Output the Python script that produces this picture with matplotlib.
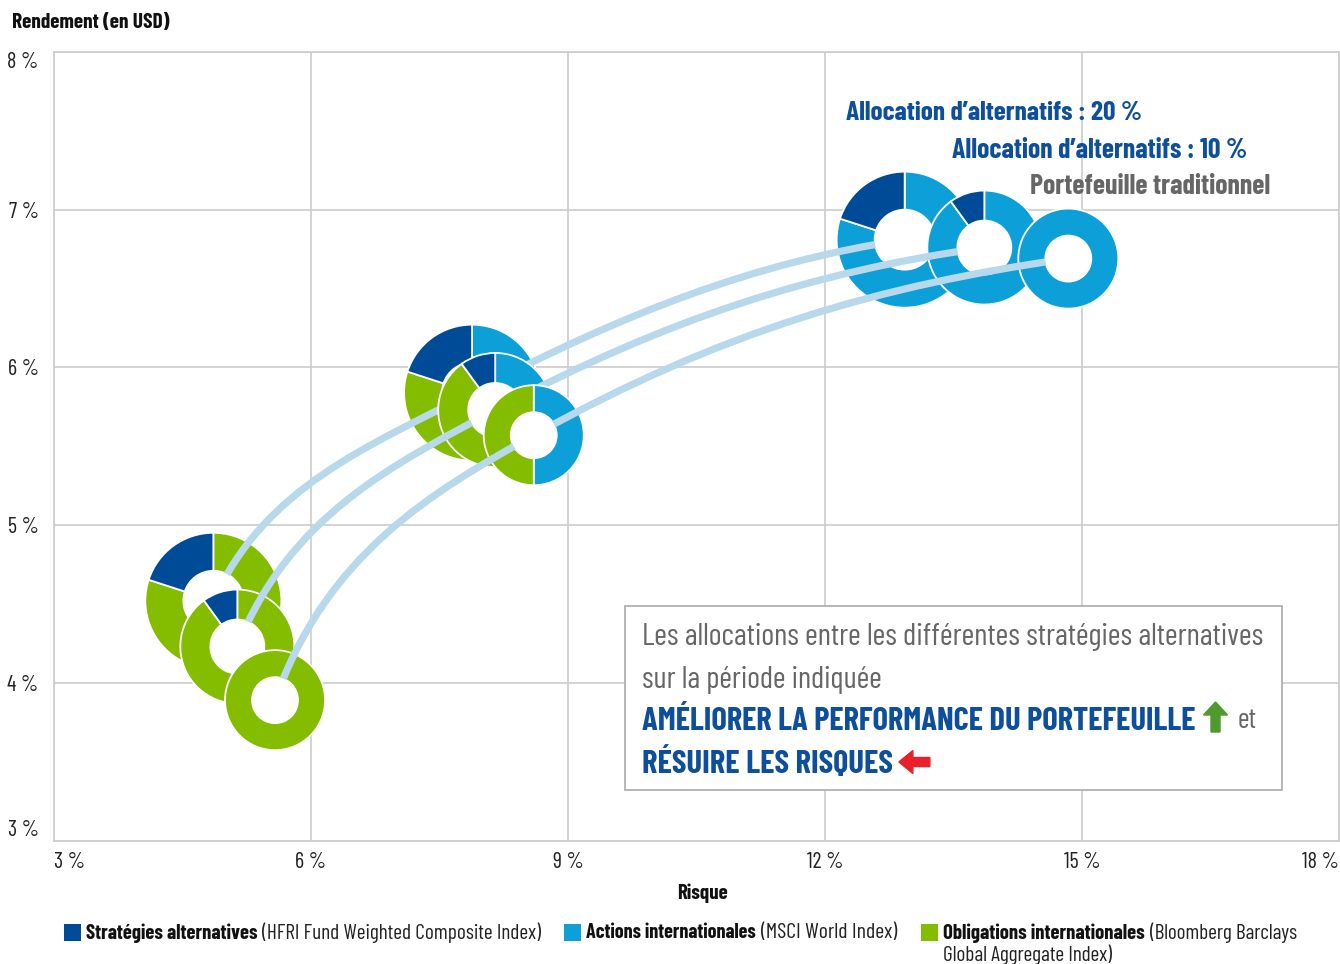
import matplotlib
matplotlib.use("Agg")
import matplotlib.pyplot as plt
import numpy as np
from matplotlib import font_manager
from matplotlib.patches import Wedge, Circle, Rectangle, FancyArrow, PathPatch
from matplotlib.path import Path
from matplotlib.transforms import ScaledTranslation

W, H = 1340, 964

# --- data (risk %, return %) for the three points of each portfolio ---
labels = ["Allocation d’alternatifs : 20 %",
          "Allocation d’alternatifs : 10 %",
          "Portefeuille traditionnel"]
risk_20 = [4.86, 7.88, 12.93]
return_20 = [4.52, 5.84, 6.81]
risk_10 = [5.14, 8.15, 13.86]
return_10 = [4.23, 5.73, 6.76]
risk_trad = [5.58, 8.60, 14.84]
return_trad = [3.89, 5.57, 6.69]

# weights in each donut: equities, bonds, alternatives
eq_20 = [0.0, 0.4, 0.8]
bonds_20 = [0.8, 0.4, 0.0]
alt_20 = [0.2, 0.2, 0.2]
eq_10 = [0.0, 0.45, 0.9]
bonds_10 = [0.9, 0.45, 0.0]
alt_10 = [0.1, 0.1, 0.1]
eq_trad = [0.0, 0.5, 1.0]
bonds_trad = [1.0, 0.5, 0.0]
alt_trad = [0.0, 0.0, 0.0]

x_ticks = [3, 6, 9, 12, 15, 18]
y_ticks = [3, 4, 5, 6, 7, 8]

legend_bold = ["Stratégies alternatives", "Actions internationales", "Obligations internationales"]
legend_norm = ["(HFRI Fund Weighted Composite Index)", "(MSCI World Index)",
               "(Bloomberg Barclays"]
legend_norm2 = "Global Aggregate Index)"

# --- style ---
C_ALT = "#004b97"
C_EQ = "#0c9fd8"
C_BOND = "#84bc00"
C_LINE = "#b8d8ec"
C_GRID = "#cccccc"
C_HEAD = "#0d4f9c"
C_GREY = "#666666"

# condensed font if there is one, else DejaVu Sans condensed
names = {f.name for f in font_manager.fontManager.ttflist}
if "Barlow Condensed" in names:
    FAM, STRETCH = "Barlow Condensed", "normal"
else:
    FAM, STRETCH = "DejaVu Sans", "condensed"
plt.rcParams["font.family"] = [FAM, "DejaVu Sans"]
plt.rcParams["font.stretch"] = STRETCH

fig = plt.figure(figsize=(W / 100, H / 100), dpi=100)
ax = fig.add_axes([54 / W, 1 - 840.5 / H, 1285 / W, 788.5 / H])
ax.set_xlim(3, 18)
ax.set_ylim(3, 8)
ax.set_xticks(x_ticks)
ax.set_yticks(y_ticks)
ax.set_xticklabels([f"{v} %" for v in x_ticks], fontsize=16, color="#222222")
ax.set_yticklabels([f"{v} %" for v in y_ticks], fontsize=16, color="#222222")
ax.tick_params(length=0, pad=8)
ax.tick_params(axis="y", pad=11)
ax.grid(True, color=C_GRID, lw=1.2)
ax.set_axisbelow(True)
for sp in ax.spines.values():
    sp.set_color(C_GRID)
    sp.set_linewidth(1.2)
xl = ax.get_xticklabels()
xl[0].set_ha("left")
xl[-1].set_ha("right")
yl = ax.get_yticklabels()
yl[0].set_va("bottom")
yl[-1].set_va("top")


def donut(x, y, R, r, eq, bonds, alt, z):
    trans = fig.dpi_scale_trans + ScaledTranslation(x, y, ax.transData)
    start = 90.0
    for frac, col in ((eq, C_EQ), (bonds, C_BOND), (alt, C_ALT)):
        if frac <= 0:
            continue
        end = start - 360 * frac
        w = Wedge((0, 0), R / 100, end, start, width=(R - r) / 100,
                  facecolor=col, edgecolor="white", lw=1.3, transform=trans, zorder=z)
        ax.add_artist(w)
        start = end
    ax.add_artist(Circle((0, 0), r / 100, facecolor="white", edgecolor="none",
                         transform=trans, zorder=z + 2))


def connector(xs, ys, z):
    P0, P1, P2 = (np.array([xs[i], ys[i]]) for i in range(3))
    T = P2 - P0
    d1 = P1 - P0
    d2 = P2 - P1
    c1 = P0 + np.array([0.2 * d1[0], 0.55 * d1[1]])
    c2 = P1 - T * (0.4 * d1[0] / T[0])
    c3 = P1 + T * (0.35 * d2[0] / T[0])
    c4 = P2 - np.array([0.35 * d2[0], 0.15 * d2[1]])
    verts = [P0, c1, c2, P1, c3, c4, P2]
    codes = [Path.MOVETO] + [Path.CURVE4] * 6
    ax.add_patch(PathPatch(Path(verts, codes), facecolor="none", edgecolor=C_LINE,
                           lw=5.2, capstyle="butt", zorder=z))


series = [
    (risk_20, return_20, eq_20, bonds_20, alt_20, 68, 30),
    (risk_10, return_10, eq_10, bonds_10, alt_10, 57, 27),
    (risk_trad, return_trad, eq_trad, bonds_trad, alt_trad, 50, 23),
]
for k, (xs, ys, eq, bo, al, R, r) in enumerate(series):
    z = 3 + 3 * k
    for i in range(3):
        donut(xs[i], ys[i], R, r, eq[i], bo[i], al[i], z)
    connector(xs, ys, z + 1)

rend = fig.canvas.get_renderer()


def px(x, y):
    return x / W, 1 - y / H


def put(x, y, s, width, **kw):
    """Text at pixel (x, y) from top-left, scaled so it is `width` pixels wide."""
    kw.setdefault("va", "center")
    t = fig.text(*px(x, y), s, **kw)
    bb = t.get_window_extent(rend)
    t.set_fontsize(t.get_fontsize() * width / bb.width)
    return t


def right(t):
    return t.get_window_extent(rend).x1


# portfolio labels
put(846, 113, labels[0], 296, fontsize=18, fontweight="bold", color=C_HEAD)
put(952, 150, labels[1], 295, fontsize=18, fontweight="bold", color=C_HEAD)
put(1030, 187, labels[2], 240, fontsize=18, fontweight="bold", color=C_GREY)

# axis titles
put(12, 23, "Rendement (en USD)", 158, fontsize=14, fontweight="bold", color="#111111")
put(677, 893, "Risque", 51, fontsize=14, fontweight="bold", color="#111111")

# message box
fig.add_artist(Rectangle((625 / W, 1 - 790 / H), 657 / W, 184 / H, transform=fig.transFigure,
                         facecolor="white", edgecolor="#aaaaaa", lw=1.2, zorder=20))
put(642, 637, "Les allocations entre les différentes stratégies alternatives", 621,
    fontsize=22, color=C_GREY, zorder=21)
put(642, 680, "sur la période indiquée", 240, fontsize=22, color=C_GREY, zorder=21)
t3 = put(642, 721, "AMÉLIORER LA PERFORMANCE DU PORTEFEUILLE", 555, fontsize=22,
         fontweight="bold", color=C_HEAD, zorder=21)
t4 = put(642, 763, "RÉSUIRE LES RISQUES", 251, fontsize=22,
         fontweight="bold", color=C_HEAD, zorder=21)

x3 = right(t3)
x4 = right(t4)
up_x = x3 + 20
fig.add_artist(FancyArrow(up_x / 100, (H - 732) / 100, 0, 17 / 100, width=9 / 100,
                          head_width=24 / 100, head_length=13 / 100,
                          color="#4e9a2d", transform=fig.dpi_scale_trans, zorder=21))
put(1238, 721, "et", 19, fontsize=22, color=C_GREY, zorder=21)
fig.add_artist(FancyArrow((x4 + 37) / 100, (H - 762) / 100, -17 / 100, 0, width=9 / 100,
                          head_width=23 / 100, head_length=14 / 100,
                          color="#e8202a", transform=fig.dpi_scale_trans, zorder=21))

# legend
leg_x = [64, 564, 921]
bold_w = [172, 170, 202]
norm_w = [279, 136, 148]
for sx, b, n, c, bw, nw in zip(leg_x, legend_bold, legend_norm, (C_ALT, C_EQ, C_BOND),
                               bold_w, norm_w):
    fig.add_artist(Rectangle((sx / W, 1 - 941 / H), 17 / W, 17 / H, transform=fig.transFigure,
                             facecolor=c, edgecolor="none"))
    tb = put(sx + 22, 933, b, bw, fontsize=14, fontweight="bold", color="#111111")
    put(right(tb) + 5, 933, n, nw, fontsize=14, color="#222222")
put(943, 955, legend_norm2, 170, fontsize=14, color="#222222")

fig.savefig("out.png", dpi=100)
